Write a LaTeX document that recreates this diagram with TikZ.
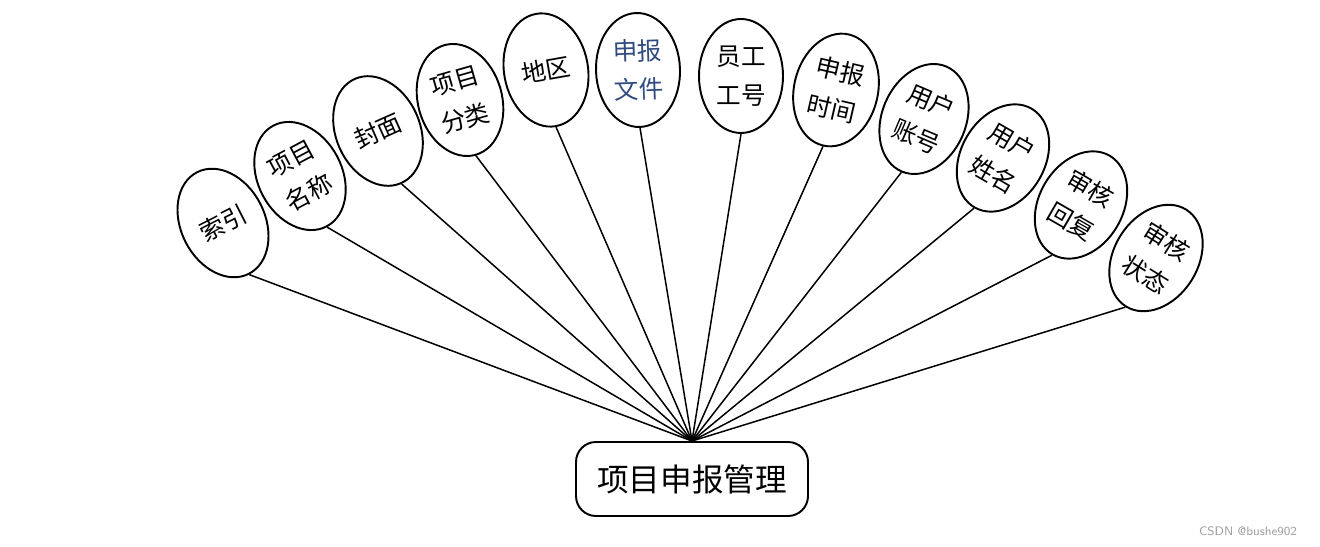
\documentclass[tikz,border=0pt]{standalone}
\usepackage{fontspec}
\newfontfamily\cjk{Noto Sans CJK SC}
\usetikzlibrary{shapes.geometric}
\definecolor{filetext}{HTML}{2F4B80}
\definecolor{mark}{HTML}{9E9E9E}
\tikzset{
  attr/.style={draw, ellipse, line width=1.1pt, minimum width=1.68cm,
               minimum height=2.28cm, inner sep=0pt, align=center,
               font=\cjk\fontsize{14}{22}\selectfont},
  hub/.style={draw, rounded corners=0.4cm, line width=1.1pt,
              minimum width=4.64cm, minimum height=1.48cm,
              font=\cjk\fontsize{18}{22}\selectfont},
  link/.style={line width=0.85pt}
}

\begin{document}
\begin{tikzpicture}
  \useasboundingbox (0,0) rectangle (26.4,10.94);

  % Entity
  \node[hub] (mgmt) at (13.84,1.36) {项目申报管理};

  % Attributes
  \foreach \i/\x/\y/\r/\c/\t in {
      1/4.46/6.48/27/black/{索引},
      2/6.00/7.42/28/black/{项目\\名称},
      3/7.56/8.32/24/black/{封面},
      4/9.20/8.94/16/black/{项目\\分类},
      5/10.92/9.54/10/black/{地区},
      6/12.76/9.54/2/filetext/{申报\\文件},
      7/14.82/9.42/0/black/{员工\\工号},
      8/16.72/9.14/-13/black/{申报\\时间},
      9/18.48/8.56/-23/black/{用户\\账号},
      10/20.06/7.78/-30/black/{用户\\姓名},
      11/21.62/6.84/-30/black/{审核\\回复},
      12/23.12/5.78/-32/black/{审核\\状态}}{
    \node[attr, rotate=\r, text=\c] (a\i) at (\x,\y) {\t};
    \draw[link] (a\i.south) -- (mgmt.north);
  }

  % Watermark
  \node[font=\sffamily\fontsize{7}{8}\selectfont, text=mark] (wm)
    at (24.96,0.32) {CSDN @bushe902};
\end{tikzpicture}
\end{document}
